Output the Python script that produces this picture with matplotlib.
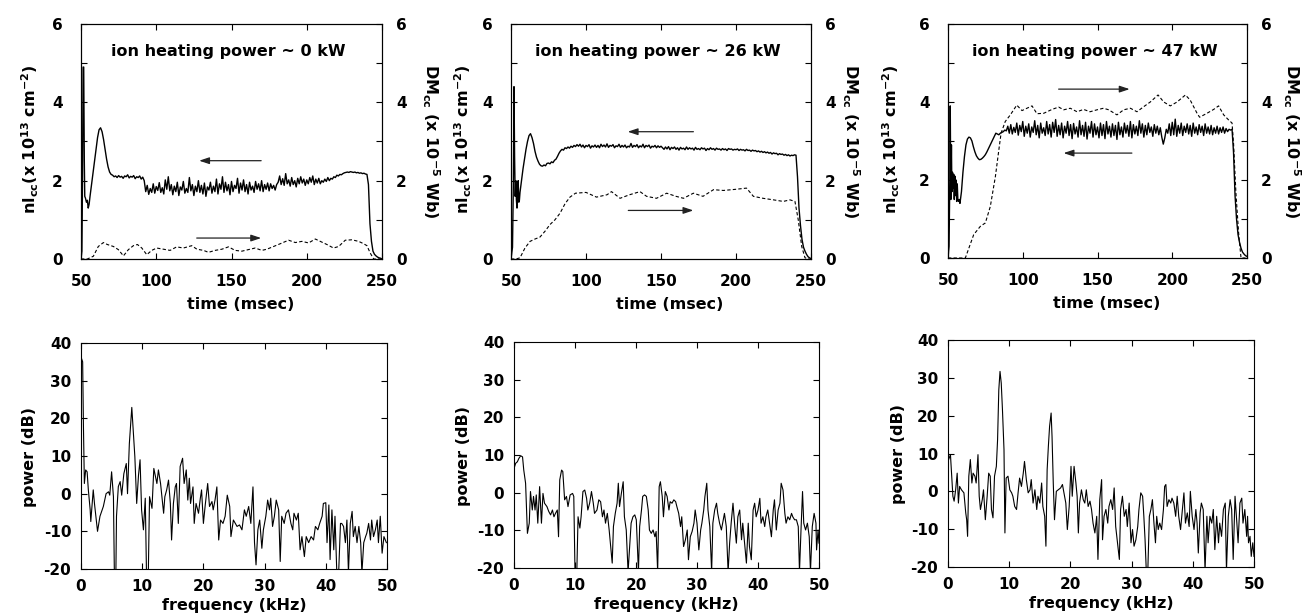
import matplotlib
matplotlib.use("Agg")
import matplotlib.pyplot as plt

plt.rcParams['font.family'] = 'DejaVu Sans'
plt.rcParams['font.weight'] = 'bold'
plt.rcParams['mathtext.default'] = 'bf'
plt.rcParams['axes.unicode_minus'] = False

# ---------------- data ----------------
titles = ["ion heating power ~ 0 kW", "ion heating power ~ 26 kW", "ion heating power ~ 47 kW"]

# line-integrated density nl_cc, fast start then 1 msec samples from t=71
nl1_head_t = [50, 50.6, 51.0, 51.4, 51.8, 52.2, 52.5, 53.0, 53.6, 54.2, 54.8, 55.4, 56, 57, 58, 59, 60,
              61, 62, 63, 64, 65, 66, 67, 68, 69, 70]
nl1_head_v = [0, 0.2, 2.0, 4.9, 4.9, 2.5, 1.6, 1.55, 1.45, 1.5, 1.3, 1.4, 1.6, 1.9, 2.2, 2.5, 2.8,
              3.1, 3.3, 3.35, 3.25, 3.05, 2.8, 2.55, 2.35, 2.22, 2.16]
nl1_body = [2.14, 2.10, 2.12, 2.08, 2.13, 2.09, 2.11, 2.06, 2.12, 2.10, 2.15, 2.07, 2.11, 2.09, 2.13,
            2.05, 2.10, 2.08, 2.12, 2.04, 2.09, 2.00,
            1.72, 1.88, 1.65, 1.80, 1.70, 1.92, 1.68, 1.85, 1.75, 1.95,
            1.70, 1.82, 1.66, 2.02, 1.78, 2.10, 1.74, 1.90, 1.64, 1.86,
            1.72, 1.96, 1.62, 1.84, 1.76, 1.98, 1.68, 1.80, 1.70, 2.08,
            1.74, 1.90, 1.62, 1.86, 1.72, 2.00, 1.70, 1.88, 1.66, 1.94,
            1.60, 1.84, 1.76, 1.96, 1.68, 1.86, 1.72, 2.04, 1.66, 1.92,
            1.78, 2.10, 1.70, 1.96, 1.74, 1.90, 1.64, 1.98, 1.72, 1.88,
            1.80, 2.06, 1.68, 1.94, 1.76, 2.02, 1.72, 1.90, 1.66, 1.96,
            1.76, 1.86, 1.70, 1.98, 1.78, 1.92, 1.74, 2.00, 1.72, 1.90,
            1.78, 1.94, 1.74, 1.92, 1.80, 1.88, 1.76, 1.90,
            1.96, 2.12, 1.90, 2.05, 1.88, 2.18, 1.92, 2.02, 1.86, 2.08,
            1.90, 2.00, 1.84, 2.06, 1.92, 2.10, 1.94, 2.04, 1.88, 2.02,
            1.92, 2.08, 1.96, 2.12, 1.90, 2.04, 1.94, 2.06, 1.92, 2.00,
            1.96, 2.04, 1.98, 2.08, 2.00, 2.06, 2.04, 2.10, 2.08, 2.14,
            2.12, 2.16, 2.15, 2.18, 2.20,
            2.21, 2.22, 2.21, 2.23, 2.22, 2.21, 2.22, 2.20, 2.21, 2.19, 2.20, 2.18, 2.19, 2.17, 2.16,
            1.9, 0.9, 0.45, 0.2, 0.12, 0.08, 0.05, 0.03, 0.02, 0.0]

nl2_head_t = [50, 51, 51.6, 52.0, 52.4, 52.8, 53.2, 53.6, 54.0, 54.4, 54.8, 55.2, 55.6, 56, 57, 58, 59,
              60, 61, 62, 63, 64, 65, 66, 67, 68, 69, 70]
nl2_head_v = [0, 0.3, 2.0, 4.4, 2.6, 1.6, 2.0, 1.5, 1.3, 1.9, 2.0, 1.45, 1.5, 1.7, 2.0, 2.3, 2.55,
              2.8, 3.0, 3.15, 3.2, 3.1, 2.95, 2.75, 2.6, 2.5, 2.42, 2.38]
nl2_body = [2.37, 2.4, 2.38, 2.44, 2.45, 2.43, 2.48, 2.46, 2.52, 2.55,
            2.62, 2.7, 2.76, 2.8, 2.78, 2.84, 2.82, 2.86, 2.83, 2.88,
            2.85, 2.9, 2.87, 2.92, 2.88,
            2.93, 2.86, 2.91, 2.84, 2.9, 2.87, 2.92, 2.83, 2.89, 2.86,
            2.91, 2.85, 2.9, 2.84, 2.93, 2.87, 2.91, 2.86, 2.94, 2.85,
            2.9, 2.88, 2.92, 2.84, 2.89, 2.87, 2.93, 2.85, 2.9, 2.86,
            2.91, 2.84, 2.88, 2.86, 2.95, 2.85, 2.9, 2.87, 2.92, 2.84,
            2.89, 2.86, 2.93, 2.84, 2.9, 2.87, 2.91, 2.83, 2.88, 2.86,
            2.9, 2.84, 2.89, 2.85, 2.88,
            2.84, 2.8, 2.86, 2.81, 2.87, 2.79, 2.85, 2.82, 2.86, 2.8,
            2.84, 2.78, 2.85, 2.81, 2.83, 2.79, 2.86, 2.8, 2.84, 2.81,
            2.83, 2.78, 2.85, 2.8, 2.82, 2.79, 2.84, 2.81, 2.83, 2.77,
            2.82, 2.79, 2.84, 2.8, 2.82, 2.78, 2.83, 2.8, 2.81, 2.78,
            2.82, 2.79, 2.81, 2.77, 2.82, 2.8, 2.81, 2.78, 2.8, 2.79,
            2.81, 2.77, 2.8, 2.78, 2.79, 2.76, 2.8, 2.77, 2.78, 2.75,
            2.78, 2.76, 2.77, 2.74, 2.76, 2.73, 2.75, 2.72, 2.74, 2.71,
            2.73, 2.7, 2.72, 2.68, 2.71, 2.69, 2.7, 2.66, 2.69, 2.67,
            2.68, 2.65, 2.67, 2.64, 2.66, 2.63, 2.65, 2.64, 2.66, 2.65,
            2.1, 1.3, 0.85, 0.5, 0.3, 0.2, 0.12, 0.06, 0.03, 0.01]

nl3_head_t = [50, 50.7, 51.2, 51.5, 51.9, 52.3, 52.6, 53.0, 53.4, 53.8, 54.2, 54.6, 55.0, 55.4, 55.8,
              56.2, 56.6, 57.0, 57.5, 58, 59, 60, 61, 62, 63, 64, 65, 66, 67, 68, 69, 70]
nl3_head_v = [0, 0.3, 2.0, 3.9, 1.5, 2.9, 1.7, 2.2, 1.8, 2.15, 1.5, 2.1, 1.6, 2.0, 1.45,
              1.9, 1.5, 1.45, 1.5, 1.4, 1.7, 2.2, 2.6, 2.9, 3.05, 3.1, 3.08, 3.0, 2.85, 2.72, 2.62, 2.56]
nl3_body = [2.52, 2.53, 2.56, 2.6, 2.65, 2.72, 2.8, 2.88, 2.96, 3.04,
            3.12, 3.2, 3.18, 3.16, 3.2, 3.22, 3.24, 3.28, 3.26,
            3.38, 3.2, 3.42, 3.18, 3.35, 3.22, 3.46, 3.15, 3.4, 3.24,
            3.5, 3.12, 3.38, 3.2, 3.44, 3.1, 3.36, 3.22, 3.52, 3.16,
            3.4, 3.08, 3.46, 3.2, 3.34, 3.14, 3.5, 3.18, 3.42, 3.1,
            3.48, 3.22, 3.55, 3.12, 3.4, 3.16, 3.46, 3.08, 3.38, 3.2,
            3.5, 3.14, 3.42, 3.06, 3.45, 3.18, 3.36, 3.1, 3.52, 3.16,
            3.4, 3.12, 3.48, 3.05, 3.38, 3.2, 3.5, 3.1, 3.44, 3.16,
            3.36, 3.08, 3.46, 3.14, 3.42, 3.06, 3.5, 3.18, 3.38, 3.1,
            3.44, 3.14, 3.4, 3.04, 3.48, 3.16, 3.36, 3.1, 3.46, 3.2,
            3.4, 3.12, 3.5, 3.08, 3.42, 3.18, 3.38, 3.14, 3.52, 3.2,
            3.44, 3.1, 3.4, 3.16, 3.46, 3.22, 3.36, 3.12, 3.42, 3.2,
            3.38, 3.16, 3.34, 3.1, 2.92, 3.08, 3.3, 3.2, 3.44, 3.14,
            3.48, 3.16, 3.56, 3.12, 3.4, 3.2, 3.46, 3.14, 3.38, 3.22,
            3.44, 3.18, 3.4, 3.12, 3.46, 3.2, 3.36, 3.16, 3.42, 3.22,
            3.38, 3.14, 3.44, 3.2, 3.36, 3.18, 3.4, 3.16, 3.34, 3.2,
            3.38, 3.18, 3.34, 3.22, 3.36, 3.2, 3.32, 3.24, 3.3, 3.28, 3.3,
            2.7, 1.6, 1.0, 0.6, 0.4, 0.25, 0.15, 0.1, 0.06, 0.04]
nl_body_t0 = 71

# diamagnetic signal DM_cc (dashed, right axis)
dm1_t = [50, 54.2, 58.2, 61.5, 64.9, 67.5, 71.5, 74.8, 78.2, 81.5, 84.8, 87.5, 90.4, 93.7, 97, 100.3,
         104.8, 109.2, 113.6, 118, 123.6, 127, 131.4, 134.7, 139.1, 143.6, 148, 152.4, 156.9, 161.3,
         165.7, 170.2, 173.5, 178, 182.4, 187.9, 192.4, 196.8, 201.2, 205.7, 209, 213.4, 217.8, 221.2,
         225.6, 230, 234.5, 237.8, 240, 242.2, 244.5, 249]
dm1_v = [0, 0, 0.07, 0.32, 0.42, 0.37, 0.32, 0.24, 0.08, 0.24, 0.34, 0.37, 0.28, 0.11, 0.22, 0.28,
         0.25, 0.22, 0.31, 0.28, 0.34, 0.25, 0.22, 0.17, 0.22, 0.25, 0.31, 0.22, 0.2, 0.24,
         0.28, 0.22, 0.25, 0.32, 0.39, 0.48, 0.42, 0.45, 0.41, 0.51, 0.45, 0.37, 0.28, 0.32,
         0.48, 0.49, 0.45, 0.39, 0.34, 0.15, 0.0, 0.0]
dm2_t = [50, 53.3, 56, 59.3, 62.7, 66, 69.3, 72.7, 76, 79.3, 82.7, 86, 89.3, 93, 100, 107, 114, 117,
         122.7, 129, 136, 140.4, 147, 153.8, 160, 165, 171.6, 178, 185, 191.6, 200, 207, 211.6, 218,
         225, 231.5, 236, 239.3, 241.5, 243.8, 246, 249]
dm2_v = [0, 0, 0.03, 0.28, 0.45, 0.51, 0.56, 0.71, 0.88, 1.0, 1.17, 1.41, 1.58, 1.68, 1.7, 1.58, 1.64, 1.72,
         1.55, 1.64, 1.72, 1.6, 1.55, 1.68, 1.6, 1.55, 1.68, 1.6, 1.77, 1.75, 1.78, 1.81, 1.6, 1.55,
         1.51, 1.47, 1.51, 1.47, 1.0, 0.32, 0.03, 0.0]
dm3_t = [50, 61.6, 67.2, 71.6, 75, 78.3, 81.7, 84, 85.5, 88.3, 91.7, 96, 99.5, 102.8, 106.2, 109.5, 114,
         119.6, 124, 127.4, 131.8, 136.3, 140.7, 145, 149.7, 154, 157.5, 163, 167.5, 172, 176.4, 180.9,
         185.3, 190.5, 194.3, 198.7, 203.2, 208.8, 212, 216.6, 218.3, 223.2, 227.7, 231, 234.4, 237.7,
         240, 241, 242.6, 244.4, 246, 249]
dm3_v = [0, 0, 0.6, 0.81, 0.9, 1.32, 2.09, 2.77, 3.2, 3.5, 3.67, 3.92, 3.78, 3.84, 3.9, 3.7, 3.71,
         3.81, 3.87, 3.8, 3.84, 3.75, 3.81, 3.75, 3.8, 3.84, 3.8, 3.67, 3.8, 3.84, 3.75, 3.88,
         4.0, 4.18, 4.0, 3.9, 4.0, 4.18, 4.05, 3.71, 3.61, 3.71, 3.81, 3.9, 3.67, 3.54,
         3.46, 2.94, 1.66, 0.64, 0.0, 0.0]

# arrows: (tail t, head t, level)
arrows = [[(169.7, 128.5, 2.51), (126.9, 169.7, 0.535)],
          [(171.6, 127.8, 3.25), (128.2, 171.6, 1.24)],
          [(173.0, 127.3, 2.69), (124.0, 171.5, 4.33)]]

# power spectra (kHz, dB)
f1 = [0, 0.27, 0.4, 0.55, 0.76, 1.0, 1.2, 1.5, 1.6, 2.0, 2.2, 2.7, 3.1, 3.65, 4.1, 4.5, 4.7, 5.0, 5.3,
      5.45, 5.7, 5.8, 6.1, 6.4, 6.65, 7.0, 7.4, 7.6, 7.9, 8.3, 8.56, 8.8, 9.1, 9.4, 9.65, 9.9, 10.2,
      10.5, 10.7, 11.0, 11.2, 11.6, 11.9, 12.4, 12.65, 13.0, 13.5, 13.7, 14.0, 14.3, 14.6, 14.8, 15.1,
      15.4, 15.6, 15.9, 16.2, 16.6, 16.85, 17.2, 17.45, 17.7, 17.9, 18.3, 18.5, 18.8, 19.2, 19.5, 19.7,
      20.0, 20.3, 20.7, 21.0, 21.4, 21.6, 21.9, 22.2, 22.5, 22.8, 23.2, 23.55, 23.9, 24.3, 24.5, 24.9,
      25.5, 25.9, 26.3, 26.7, 27.0, 27.4, 27.75, 28.1, 28.35, 28.6, 28.9, 29.2, 29.55, 29.8, 30.2,
      30.5, 30.8, 31.0, 31.3, 31.6, 31.9, 32.3, 32.55, 32.8, 33.2, 33.5, 33.9, 34.3, 34.6, 34.8, 35.2,
      35.5, 35.8, 36.1, 36.5, 36.8, 37.2, 37.6, 38.0, 38.3, 38.7, 39.0, 39.4, 39.6, 40.0, 40.2, 40.5,
      40.7, 41.0, 41.3, 41.5, 41.8, 42.1, 42.4, 42.6, 42.9, 43.2, 43.45, 43.7, 44.0, 44.3, 44.5, 44.8,
      45.1, 45.4, 45.7, 45.9, 46.2, 46.5, 46.7, 47.0, 47.3, 47.5, 47.8, 48.1, 48.4, 48.6, 48.9, 49.2,
      49.5, 49.9]
p1 = [36.3, 35, 17.8, 2.7, 6.3, 5.8, 1, -4.3, -7.4, 1, -2.6, -10, -6, -3.4, 0, 0.5, -0.4, 5.8, -0.8,
      -21, -21, -6, 1.9, 3.2, -0.4, 5.3, 8, 0, 13.3, 22.9, 16, 9.8, -2.6, 5, 9, -4.3, -9.6,
      -1.2, -21, -21, -0.8, -3.9, 6.7, 2.7, 6.3, 2.7, -5.2, -0.8, 1, 3.6, -2.6, -12.3, -2.6,
      1.8, 2.7, -7.9, 7.2, 9.4, 2.7, 6.3, -1.7, 4.1, -2.6, 1.8, -7.9, -2.6, -5.2, -1.2, 1,
      -7.9, -3, 2.7, -3.4, -2.1, -4.3, -1.7, 1.8, -12.3, -7, -7.9, -6, -0.4, -3.4, -11.4, -7,
      -8.7, -8.3, -9.6, -4.3, -6, -3.4, -7.9, 1.8, -13, -18.9, -9.6, -7, -14.5, -9.6, -6,
      -1.7, -4.3, -1.2, -8.7, -6, -1.7, -4.3, -18, -6, -7.9, -5.2, -4.3, -7.9, -9.6, -5.2, -7,
      -5.2, -14.9, -11.4, -16.7, -11.4, -13, -11.4, -12.3, -8.7, -9.6, -7.9, -6, -2.6, -2.4, -13, -3,
      -17.5, -4.3, -14.9, -6, -21, -21, -7.9, -7.9, -8.7, -13, -7, -21, -7.9, -4.7, -11.4, -8.7,
      -13, -8.7, -13, -21, -13, -11.4, -10.5, -7.9, -12.3, -7, -11.4, -9.6, -7, -13, -6, -15.8,
      -11.4, -13]

f2 = [0, 0.27, 0.55, 0.8, 1.1, 1.4, 1.6, 1.9, 2.2, 2.5, 2.7, 3.0, 3.2, 3.45, 3.65, 3.9, 4.2, 4.5,
      4.75, 5.0, 5.4, 5.7, 6.0, 6.3, 6.55, 6.8, 7.1, 7.3, 7.5, 7.8, 8.0, 8.3, 8.6, 8.85, 9.2, 9.6,
      9.8, 10.0, 10.3, 10.5, 10.8, 11.0, 11.3, 11.6, 11.9, 12.1, 12.4, 12.7, 13.0, 13.2, 13.6, 13.9,
      14.2, 14.5, 14.75, 15.0, 15.3, 15.6, 15.85, 16.1, 16.3, 16.6, 16.9, 17.1, 17.3, 17.6, 17.9,
      18.1, 18.4, 18.7, 19.0, 19.2, 19.5, 19.8, 20.05, 20.4, 20.6, 20.9, 21.1, 21.4, 21.7, 22.0,
      22.2, 22.5, 22.8, 23.1, 23.3, 23.55, 23.8, 24.0, 24.3, 24.5, 24.8, 25.1, 25.4, 25.6, 25.9,
      26.2, 26.5, 26.7, 27.0, 27.3, 27.5, 27.8, 28.1, 28.4, 28.6, 28.9, 29.2, 29.5, 29.7, 30.0,
      30.3, 30.6, 30.8, 31.1, 31.3, 31.6, 31.8, 32.1, 32.4, 32.6, 32.9, 33.2, 33.4, 33.7, 34.0,
      34.3, 34.5, 34.8, 35.1, 35.35, 35.6, 35.9, 36.2, 36.45, 36.7, 37.0, 37.3, 37.5, 37.8, 38.1,
      38.4, 38.6, 38.9, 39.2, 39.45, 39.7, 40.0, 40.3, 40.5, 40.8, 41.1, 41.3, 41.6, 41.9, 42.2,
      42.5, 42.7, 43.0, 43.3, 43.6, 43.8, 44.1, 44.4, 44.6, 44.9, 45.2, 45.5, 45.7, 46.0, 46.3,
      46.6, 46.8, 47.05, 47.3, 47.5, 47.8, 48.1, 48.4, 48.6, 48.9, 49.2, 49.5, 49.6, 49.85, 50]
p2 = [6.4, 7.8, 8.2, 9.1, 9.8, 9.5, 6, 2.5, -10.8, -8.1, 0.3, -4.6, -1, -4.6, -0.6, -8.1, 1.6, -8.1,
      -0.2, -2.8, -3.7, -5, -5.9, -4.6, -6.4, -5.5, -4.6, -11.7, 3.4, 6, 5.6, -1.9, -1, -3.7, -0.6, -0.2,
      -1, -21, -21, -6.4, -9.4, -6.4, 0.3, 0.7, -1.5, -4.6, -2.8, 0.3, -2.8, -5.5, -4.6, -1.9,
      -2.4, -6.4, -4.6, -8.1, -5.5, -9.9, -14.3, -18.7, -9, -5.5, -2.8, 2.5, -3.7, -0.2, 2.9,
      -6.4, -9.9, -21, -13.4, -8.1, -6.4, -5.9, -7.2, -21, -9, -4.6, -1, -0.6, -1, -4.6,
      -9.9, -10.8, -9.9, -11.7, -10.3, -21, 1.6, 2.9, -1, -6.4, 0.3, -1, -4.6, -2.4, -2.8,
      -1.9, -2.4, -3.7, -5.5, -9, -6.4, -14.3, -12.5, -9.9, -17.8, -11.7, -10.3, -8.1, -4.6, -8.1,
      -15.2, -9.9, -8.1, -4.6, -1, 2.5, -4.6, -9, -21, -8.1, -4.6, -2.8, -5.5, -8.1, -9.9,
      -7.2, -5.5, -9, -21, -13.4, -8.1, -2.8, -9, -13.4, -6.4, -4.6, -12.5, -8.1, -13.4, -18.7,
      -8.1, -14.3, -17.8, -4.6, -2.8, -6.4, -4.6, -1.5, -8.1, -6.4, -9, -6.4, -4.6, -8.1, -11.7,
      -4.6, -1.9, -9.9, -4.6, -2.8, 2.5, 0.7, -5.5, -8.1, -6.4, -7.2, -5.5, -6.4, -7.2, -7.2,
      -9, -21, -9.9, 0.3, -8.1, -9.9, -8.1, -11.7, -21, -9, -5.5, -8.1, -15.2, -9.9, -13.4]

f3 = [0.1, 0.4, 0.6, 0.8, 1.0, 1.25, 1.5, 1.7, 1.9, 2.2, 2.6, 2.9, 3.05, 3.2, 3.4, 3.65, 3.9, 4.1,
      4.4, 4.6, 4.9, 5.1, 5.3, 5.6, 5.8, 6.1, 6.4, 6.65, 6.9, 7.1, 7.35, 7.6, 7.9, 8.1, 8.3, 8.5, 8.7,
      8.9, 9.15, 9.3, 9.5, 9.8, 10.1, 10.4, 10.6, 10.9, 11.2, 11.45, 11.7, 12.0, 12.3, 12.5, 12.8,
      13.1, 13.4, 13.6, 13.9, 14.2, 14.5, 14.7, 15.0, 15.3, 15.5, 15.8, 16.0, 16.2, 16.4, 16.6, 16.85,
      17.0, 17.2, 17.4, 17.7, 18.0, 18.4, 18.7, 19.0, 19.25, 19.5, 19.8, 20.1, 20.3, 20.6, 20.9, 21.1,
      21.3, 21.5, 21.8, 22.1, 22.35, 22.6, 22.9, 23.2, 23.45, 23.7, 24.0, 24.3, 24.5, 24.8, 25.1,
      25.25, 25.5, 25.8, 26.1, 26.3, 26.6, 26.9, 27.15, 27.4, 27.7, 28.0, 28.2, 28.5, 28.8, 29.1,
      29.3, 29.6, 29.9, 30.15, 30.4, 30.7, 31.0, 31.2, 31.5, 31.8, 32.0, 32.2, 32.4, 32.65, 32.9,
      33.15, 33.4, 33.65, 33.9, 34.1, 34.35, 34.6, 34.9, 35.2, 35.4, 35.6, 35.8, 36.1, 36.4, 36.6,
      36.9, 37.2, 37.45, 37.7, 38.0, 38.3, 38.55, 38.8, 39.1, 39.4, 39.6, 39.9, 40.2, 40.5, 40.7,
      40.9, 41.2, 41.4, 41.7, 42.0, 42.3, 42.5, 42.8, 43.1, 43.35, 43.6, 43.9, 44.2, 44.4, 44.7,
      45.0, 45.3, 45.5, 45.8, 46.1, 46.35, 46.6, 46.9, 47.2, 47.4, 47.7, 48.0, 48.2, 48.5, 48.8,
      48.95, 49.1, 49.35, 49.55, 49.8, 50]
p3 = [8.4, 9.7, 4, -1.3, -2.6, 0.4, 4.8, -3.1, 1.3, 0.4, -0.4, -5.7, -7.5, -11.9, 4, 8.4, 2.2, 4.8,
      4, 2.2, 9.7, -1.3, -4.8, -2.2, 0.4, -7.5, -1.3, 4.8, 4, -4.8, -7, 4, 6.6, 13.6, 26.8, 31.7, 28.6,
      21.5, 11, -11, 3.5, 4, 0.4, -0.4, -1.3, -4, -4.8, -0.4, 3.5, 1.3, 4.8, 7.9, 3.1,
      -0.4, 0.4, 3.1, -3.1, 0.4, -4.8, -1.3, -3.1, 2.2, -4, -6.6, -14.5, 5.7, 11.9, 17.2, 20.7,
      14.5, 2.2, -7.5, 0, 0.4, 0.9, 1.8, -0.9, -3.1, -10.1, -4, 6.6, -1.3, 6.6, 2.2, -1.3,
      -11, -3.1, 0.4, -2.2, -3.1, 0.4, -4, -2.6, -4.8, -8.4, -11, -6.6, -18, -2.2, 3.1,
      -12.8, -6.6, -4.8, -8.4, -4, -2.2, -4.8, 0.9, -9.3, -13.6, -18, -4.8, -1.3, -6.6, -4.8,
      -9.3, -3.1, -13.6, -10.1, -14.5, -12.8, -9.3, -4.8, -0.4, -1.3, -6.6, -12.8, -21, -21, -6.6,
      -4.8, -2.2, -8.4, -13.6, -6.6, -10.1, -8.4, -10.1, -4.8, 1.3, 1.8, -4, -2.2, -3.1, -1.8,
      -3.1, -6.6, -1.3, -6.6, -10.1, -4.8, -0.4, -8.4, -5.7, -9.3, 0, -6.6, -10.1, -4.8, -8.4,
      -16.3, -5.7, -3.1, -4.8, -21, -6.6, -13.6, -6.6, -8.4, -4.8, -15.4, -6.6, -13.6, -8.4, -11.9,
      -4.8, -3.1, -21, -6.6, -2.2, -4.8, -18, -1.3, -8.4, -13.6, -3.1, -1.8, -8.4, -4.8, -11.9,
      -6.6, -13.6, -11.9, -17.2, -13.6, -17.2]

# ---------------- figure ----------------
W, H = 1305, 616
fig = plt.figure(figsize=(W / 100, H / 100), dpi=100)


def box(l, r, t, b):
    return [l / W, 1 - b / H, (r - l) / W, (b - t) / H]


top_boxes = [box(81, 382, 24, 259), box(511, 811, 24, 259), box(948, 1247, 24, 258)]
bot_boxes = [box(81, 387, 343, 569), box(514, 819, 342, 568), box(948, 1254, 340, 567)]
left_lab_x = [-0.17, -0.16, -0.19]
right_lab_x = [1.163, 1.133, 1.15]
power_lab_x = [-0.167, -0.164, -0.163]

nl_heads = [(nl1_head_t, nl1_head_v), (nl2_head_t, nl2_head_v), (nl3_head_t, nl3_head_v)]
nl_bodies = [nl1_body, nl2_body, nl3_body]
dms = [(dm1_t, dm1_v), (dm2_t, dm2_v), (dm3_t, dm3_v)]
spectra = [(f1, p1), (f2, p2), (f3, p3)]

lw = 0.8
for i in range(3):
    ax = fig.add_axes(top_boxes[i])
    axr = ax.twinx()
    ht, hv = nl_heads[i]
    t = ht + [nl_body_t0 + k for k in range(len(nl_bodies[i]))]
    v = hv + nl_bodies[i]
    ax.plot(t, v, color='black', lw=1.0)
    axr.plot(dms[i][0], dms[i][1], color='black', lw=lw, ls=(0, (3, 2)))

    for a in (ax, axr):
        a.set_xlim(50, 250)
        a.set_ylim(0, 6)
        a.set_yticks([0, 2, 4, 6])
        a.set_yticks([1, 3, 5], minor=True)
        for s in a.spines.values():
            s.set_linewidth(lw)
    ax.set_xticks([50, 100, 150, 200, 250])
    ax.tick_params(which='both', direction='in', length=4, width=lw, top=True, right=False,
                   labelsize=11)
    ax.tick_params(axis='x', pad=11)
    ax.tick_params(axis='y', which='both', pad=13)
    axr.tick_params(which='both', direction='in', length=4, width=lw, labelsize=11, pad=10)

    ax.text(0.49, 0.882, titles[i], transform=ax.transAxes, ha='center', va='center',
            fontsize=11.5, fontweight='bold')
    ax.text(0.53, -0.163, 'time (msec)', transform=ax.transAxes, ha='center', va='top',
            fontsize=11.5, fontweight='bold')
    ax.text(left_lab_x[i], 0.51, r'nl$_{cc}$(x 10$^{13}$ cm$^{-2}$)', transform=ax.transAxes,
            rotation=90, ha='center', va='center', fontsize=11.5, fontweight='bold')
    ax.text(right_lab_x[i], 0.5, r'DM$_{cc}$ (x 10$^{-5}$ Wb)', transform=ax.transAxes,
            rotation=-90, ha='center', va='center', fontsize=11.5, fontweight='bold')

    for t0, t1, lev in arrows[i]:
        ax.annotate('', xy=(t1, lev), xytext=(t0, lev),
                    arrowprops=dict(arrowstyle='-|>,head_length=0.6,head_width=0.2',
                                    color='#222222', lw=0.9, shrinkA=0, shrinkB=0))

    # spectrum
    bx = fig.add_axes(bot_boxes[i])
    bx.plot(spectra[i][0], spectra[i][1], color='black', lw=lw)
    bx.set_xlim(0, 50)
    bx.set_ylim(-20, 40)
    bx.set_xticks([0, 10, 20, 30, 40, 50])
    bx.set_yticks([-20, -10, 0, 10, 20, 30, 40])
    bx.tick_params(direction='in', length=4, width=lw, top=True, right=True, labelsize=11)
    bx.tick_params(axis='x', pad=7)
    bx.tick_params(axis='y', pad=7)
    for s in bx.spines.values():
        s.set_linewidth(lw)
    bx.text(0.5, -0.128, 'frequency (kHz)', transform=bx.transAxes, ha='center', va='top',
            fontsize=11.5, fontweight='bold')
    bx.text(power_lab_x[i], 0.496, 'power (dB)', transform=bx.transAxes, rotation=90,
            ha='center', va='center', fontsize=11.5, fontweight='bold')

fig.savefig('out.png', dpi=100)
